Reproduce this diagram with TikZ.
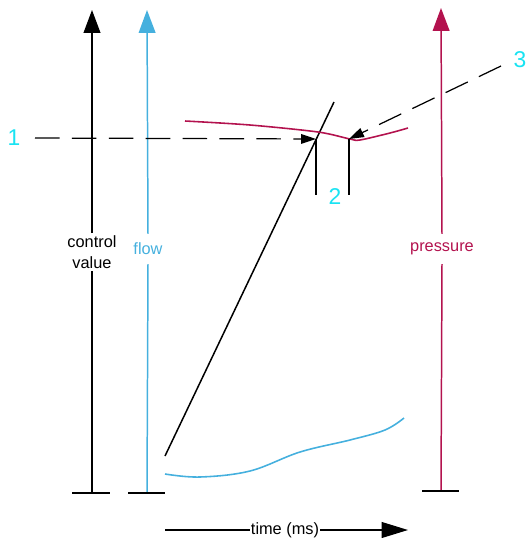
\documentclass[tikz,border=0pt]{standalone}
\usepackage{fontspec}
\setmainfont{Liberation Sans}
\usetikzlibrary{arrows.meta,positioning}
\definecolor{flowc}{HTML}{45B0DE}
\definecolor{pressc}{HTML}{B3124E}
\definecolor{callout}{HTML}{19E3F2}
\tikzset{
  axis/.style={line width=0.85pt},
  axishead/.style={-{Triangle[length=13pt,width=9.5pt]}, line width=0.85pt},
  lbl/.style={font=\fontsize{9.3}{12.3}\selectfont, align=center, inner sep=1pt},
  num/.style={font=\fontsize{13}{15}\selectfont, text=callout, inner sep=1pt},
  dashed arrow/.style={-{Triangle[length=8.5pt,width=5.5pt]}, line width=0.7pt,
    dash pattern=on 14pt off 7pt},
  tick/.style={line width=0.8pt}
}
\begin{document}
\begin{tikzpicture}[x=0.02cm, y=-0.02cm]
  \useasboundingbox (0,0) rectangle (527,538);
  % axes
  \coordinate (cv-top) at (92,10);
  \coordinate (cv-base) at (92,493);
  \node[lbl] (cv-lbl) at (92,252) {control\\value};
  \draw[axis] (cv-base) -- (cv-lbl.south);
  \draw[axishead] (cv-lbl.north) -- (cv-top);
  \draw[axis] (72,493) -- (110,493);

  \coordinate (fl-top) at (147,10);
  \coordinate (fl-base) at (147,493);
  \node[lbl, text=flowc, inner ysep=5pt] (fl-lbl) at (148,249) {flow};
  \draw[axis, flowc] (fl-base) -- (fl-lbl.south);
  \draw[axishead, flowc] (fl-lbl.north) -- (fl-top);
  \draw[axis] (128,493) -- (165,493);

  \coordinate (pr-top) at (441,8);
  \coordinate (pr-base) at (441,491);
  \node[lbl, text=pressc, inner ysep=5pt] (pr-lbl) at (442,249) {pressure};
  \draw[axis, pressc] (pr-base) -- (pr-lbl.south);
  \draw[axishead, pressc] (pr-lbl.north) -- (pr-top);
  \draw[axis] (422,491) -- (459,491);

  % time
  \coordinate (t-start) at (165,530);
  \coordinate (t-end) at (408,530);
  \node[lbl, inner xsep=0.5pt] (t-lbl) at (285,530) {time (ms)};
  \draw[axis] (t-start) -- (t-lbl.west);
  \draw[-{Triangle[length=15pt,width=9pt]}, line width=0.85pt] (t-lbl.east) -- (t-end);

  % curves
  \draw[line width=0.85pt] (165,456) -- (334,102);
  \draw[pressc, line width=0.9pt] plot[smooth, tension=0.5] coordinates
    {(185,121) (250,125) (318,132) (350,139) (360,140) (390,133) (408,128)};
  \draw[flowc, line width=0.9pt] plot[smooth, tension=0.6] coordinates
    {(165,474) (200,477) (250,471) (300,452) (350,440) (385,430) (404,418)};

  % callouts
  \coordinate (p1) at (316,139);
  \coordinate (p3) at (349,139);
  \node[num] (n1) at (14,138) {1};
  \node[num] (n2) at (335,197) {2};
  \node[num] (n3) at (520,60) {3};
  \draw[tick] (p1) -- (316,195);
  \draw[tick] (p3) -- (349,195);
  \draw[dashed arrow] (35,138) -- (p1);
  \draw[dashed arrow] (501,66) -- (p3);
\end{tikzpicture}
\end{document}
